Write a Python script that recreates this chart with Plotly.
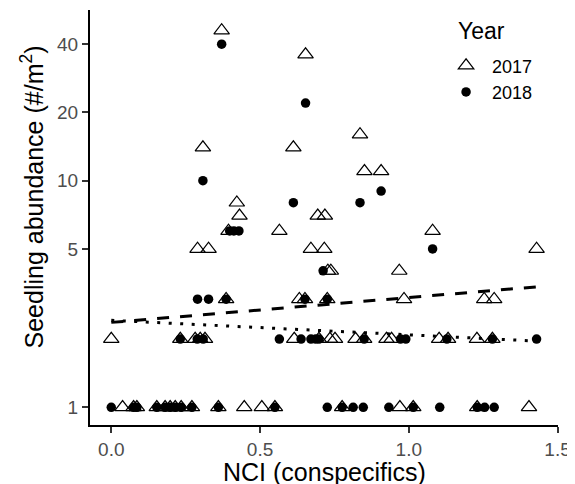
import plotly.graph_objects as go

# ---- data ----
x_2017 = [0.371, 0.653, 0.308, 0.612, 0.836, 0.851, 0.907,
          0.422, 0.431, 0.694, 0.718, 0.394, 0.565, 1.080,
          0.290, 0.327, 0.671, 0.716, 1.4295, 0.728, 0.738, 0.968,
          0.386, 0.632, 0.651, 0.726, 0.984, 1.2535, 1.287,
          0.000, 0.232, 0.282, 0.299, 0.315, 0.615, 0.698, 0.735, 0.752,
          0.821, 0.850, 0.925, 0.942, 1.102, 1.132, 1.229, 1.281,
          0.038, 0.075, 0.086, 0.153, 0.181, 0.198, 0.215, 0.235, 0.271,
          0.360, 0.447, 0.506, 0.550, 0.776, 0.970, 1.015, 1.230, 1.404]
y_2017 = [46, 36, 14, 14, 16, 11, 11,
          8, 7, 7, 7, 6, 6, 6,
          5, 5, 5, 5, 5, 4, 4, 4,
          3, 3, 3, 3, 3, 3, 3,
          2, 2, 2, 2, 2, 2, 2, 2, 2,
          2, 2, 2, 2, 2, 2, 2, 2,
          1, 1, 1, 1, 1, 1, 1, 1, 1,
          1, 1, 1, 1, 1, 1, 1, 1, 1]

x_2018 = [0.371, 0.653, 0.308, 0.907, 0.836, 0.612, 0.398, 0.412, 0.429,
          1.080, 0.712,
          0.290, 0.327, 0.386, 0.651, 0.726,
          0.232, 0.289, 0.309, 0.565, 0.638, 0.671, 0.687, 0.698, 0.850,
          0.972, 0.990, 1.128, 1.281, 1.4295,
          0.000, 0.075, 0.086, 0.153, 0.181, 0.198, 0.215, 0.235, 0.271,
          0.360, 0.550, 0.726, 0.776, 0.813, 0.847, 0.933, 1.015, 1.104,
          1.230, 1.255, 1.287]
y_2018 = [40, 22, 10, 9, 8, 8, 6, 6, 6,
          5, 4,
          3, 3, 3, 3, 3,
          2, 2, 2, 2, 2, 2, 2, 2, 2,
          2, 2, 2, 2, 2,
          1, 1, 1, 1, 1, 1, 1, 1, 1,
          1, 1, 1, 1, 1, 1, 1, 1, 1,
          1, 1, 1]

# fitted trend lines (end points)
fit_x = [0.0, 1.4295]
fit_2017 = [2.37, 3.40]
fit_2018 = [2.42, 1.96]

x_tickvals = [0, 0.5, 1.0, 1.5]
x_ticktext = ["0.0", "0.5", "1.0", "1.5"]
y_tickvals = [1, 5, 10, 20, 40]
y_ticktext = ["1", "5", "10", "20", "40"]

FONT = "Liberation Sans, Arial, sans-serif"

fig = go.Figure()
fig.add_trace(go.Scatter(
    x=x_2017, y=y_2017, mode="markers", name="2017",
    marker=dict(symbol="triangle-up-open", size=13.5, color="black",
                line=dict(width=1.2, color="black"))))
fig.add_trace(go.Scatter(
    x=x_2018, y=y_2018, mode="markers", name="2018",
    marker=dict(symbol="circle", size=9.5, color="black",
                line=dict(width=0))))
fig.add_trace(go.Scatter(
    x=fit_x, y=fit_2017, mode="lines", showlegend=False, hoverinfo="skip",
    line=dict(color="black", width=3, dash="12px,11px")))
fig.add_trace(go.Scatter(
    x=fit_x, y=fit_2018, mode="lines", showlegend=False, hoverinfo="skip",
    line=dict(color="black", width=3, dash="3px,8.5px")))

axis_common = dict(
    showline=True, linecolor="black", linewidth=2,
    ticks="outside", ticklen=6, tickwidth=2, tickcolor="#333333",
    showgrid=False, zeroline=False, automargin=False,
    tickfont=dict(family=FONT, size=19, color="#4d4d4d"),
)

# page body has an 8px margin, so the figure is 8px smaller each way
fig.update_layout(
    width=567, height=476,
    margin=dict(l=82, r=17, t=2, b=59, autoexpand=False),
    paper_bgcolor="white", plot_bgcolor="white",
    font=dict(family=FONT, color="black"),
    xaxis=dict(range=[-0.0715, 1.5015], tickvals=x_tickvals,
               ticktext=x_ticktext, **axis_common),
    yaxis=dict(type="log", range=[-0.078, 1.753], tickvals=y_tickvals,
               ticktext=y_ticktext, **axis_common),
    legend=dict(
        font=dict(family=FONT, size=18, color="black"),
        x=0.748, y=0.91, xanchor="left", yanchor="top",
        itemwidth=42,
        bgcolor="rgba(0,0,0,0)", borderwidth=0,
    ),
    annotations=[
        dict(text="Year", xref="paper", yref="paper",
             x=0.782, y=0.949, xanchor="left", yanchor="middle",
             showarrow=False, font=dict(family=FONT, size=23, color="black")),
        dict(text="NCI (conspecifics)", xref="paper", yref="paper",
             x=0.5, y=-0.113, xanchor="center", yanchor="middle",
             showarrow=False, font=dict(family=FONT, size=25, color="black")),
        dict(text="Seedling abundance (#/m<sup>2</sup>)", xref="paper",
             yref="paper", x=-0.124, y=0.5506, xanchor="center",
             yanchor="middle", textangle=-90, showarrow=False,
             font=dict(family=FONT, size=25, color="black")),
    ],
)

fig.write_html("out.html")
